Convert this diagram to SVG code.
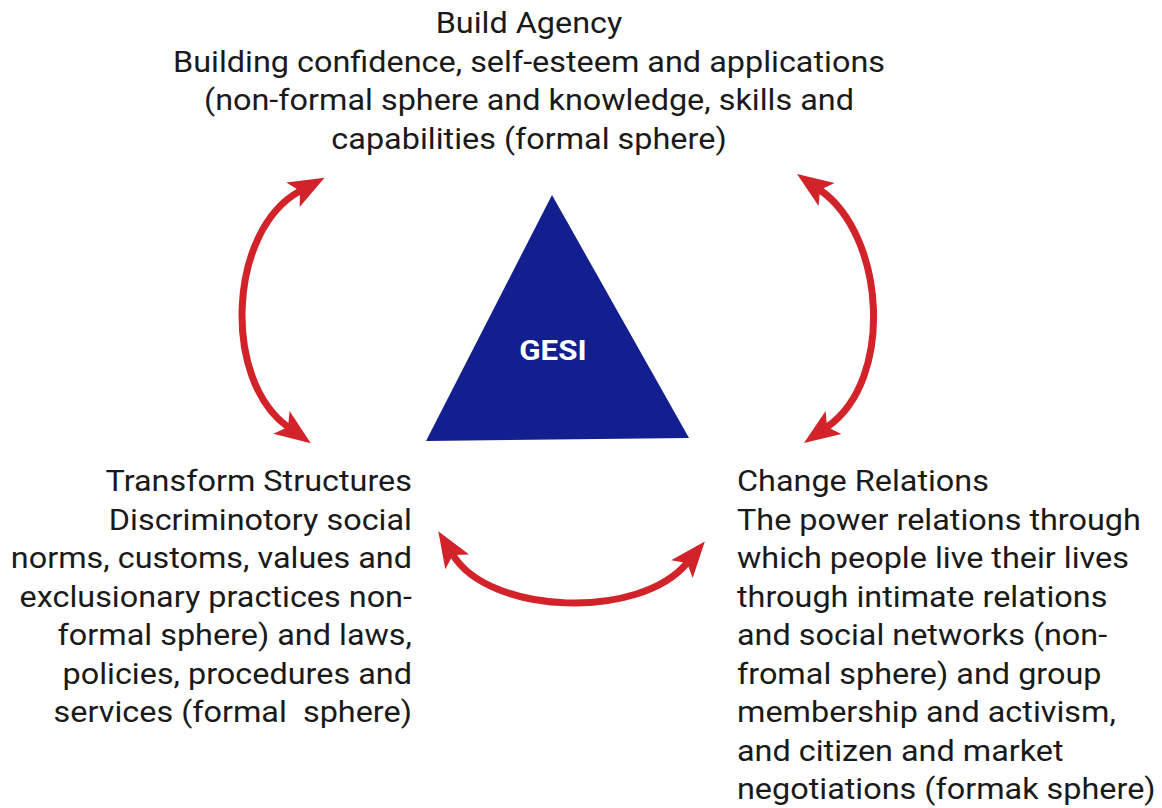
<svg xmlns="http://www.w3.org/2000/svg" width="1162" height="808" viewBox="0 0 1162 808">
<style>
.t{font-family:Roboto,"Liberation Sans",sans-serif;font-size:29px;fill:#1a1a1a;white-space:pre}
.c{text-anchor:middle}
.r{text-anchor:end}
.conn{fill:none;stroke:#d2232a;stroke-width:7}
</style>
<defs>
<marker id="ah" markerUnits="userSpaceOnUse" markerWidth="40" markerHeight="40" viewBox="-10 -20 40 40" refX="0" refY="0" orient="auto-start-reverse">
<path d="M28,0 L-8,-14 L0,0 L-8,14 Z" fill="#d2232a"/>
</marker>
</defs>
<rect width="1162" height="808" fill="#fff"/>
<g id="connectors">
<path class="conn" d="M300,191 C228,230 222,380 288,427" marker-start="url(#ah)" marker-end="url(#ah)"/>
<path class="conn" d="M820,190 C885,235 895,380 827,427" marker-start="url(#ah)" marker-end="url(#ah)"/>
<path class="conn" d="M453,555 C490,615 640,620 687,563" marker-start="url(#ah)" marker-end="url(#ah)"/>
</g>
<g id="gesi">
<polygon points="552,195 426,441 689,438" fill="#131f8f"/>
<text transform="scale(1.117,1)" x="495" y="360" text-anchor="middle" style="font-family:Roboto,'Liberation Sans',sans-serif;font-size:28px;font-weight:bold;fill:#fff">GESI</text>
</g>
<g id="build-agency" transform="scale(1.117,1)">
<text class="t c" x="473.6" y="33">Build Agency</text>
<text class="t c" x="473.6" y="72">Building confidence, self-esteem and applications</text>
<text class="t c" x="473.6" y="110">(non-formal sphere and knowledge, skills and</text>
<text class="t c" x="473.6" y="149">capabilities (formal sphere)</text>
</g>
<g id="transform-structures" transform="scale(1.117,1)">
<text class="t r" x="368.8" y="491">Transform Structures</text>
<text class="t r" x="368.8" y="530">Discriminotory social</text>
<text class="t r" x="368.8" y="568">norms, customs, values and</text>
<text class="t r" x="368.8" y="607">exclusionary practices non-</text>
<text class="t r" x="368.8" y="645">formal sphere) and laws,</text>
<text class="t r" x="368.8" y="684">policies, procedures and</text>
<text class="t r" x="368.8" y="722">services (formal  sphere)</text>
</g>
<g id="change-relations" transform="scale(1.117,1)">
<text class="t" x="659.8" y="491">Change Relations</text>
<text class="t" x="659.8" y="530">The power relations through</text>
<text class="t" x="659.8" y="568">which people live their lives</text>
<text class="t" x="659.8" y="607">through intimate relations</text>
<text class="t" x="659.8" y="645">and social networks (non-</text>
<text class="t" x="659.8" y="684">fromal sphere) and group</text>
<text class="t" x="659.8" y="722">membership and activism,</text>
<text class="t" x="659.8" y="761">and citizen and market</text>
<text class="t" x="659.8" y="799">negotiations (formak sphere)</text>
</g>
</svg>
